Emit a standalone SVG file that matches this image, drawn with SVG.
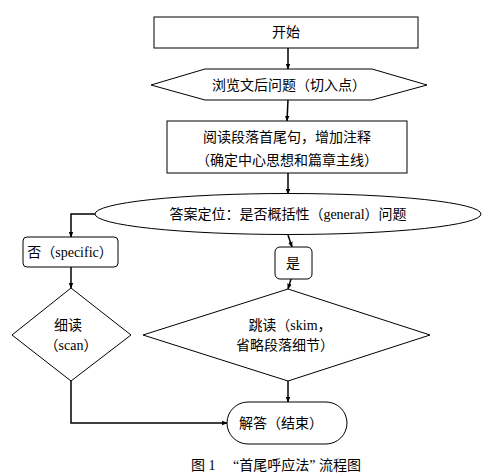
<svg xmlns="http://www.w3.org/2000/svg" width="493" height="476" viewBox="0 0 493 476">
<style>
.n{fill:#fff;stroke:#000;stroke-width:1}
.t{font-family:"Liberation Serif","Noto Sans CJK SC",serif;font-size:14px;fill:#000;text-anchor:middle}
.c{fill:none;stroke:#000;stroke-width:1.5}
</style>
<defs>
<marker id="a" viewBox="0 0 8 8" refX="7" refY="4" markerWidth="6" markerHeight="6" orient="auto" markerUnits="userSpaceOnUse">
<path d="M0,1 L8,4 L0,7 Z" fill="#000"/>
</marker>
</defs>
<rect width="493" height="476" fill="#fff"/>
<g id="connectors">
<path class="c" d="M288,48 L288,69" marker-end="url(#a)"/>
<path class="c" d="M288,100 L287,121" marker-end="url(#a)"/>
<path class="c" d="M288,173 L288,194" marker-end="url(#a)"/>
<path class="c" d="M95,214 L71,214 L71,237" marker-end="url(#a)"/>
<path class="c" d="M288,235 L292,247" marker-end="url(#a)"/>
<path class="c" d="M71,267 L71,288" marker-end="url(#a)"/>
<path class="c" d="M291,279 L288,289" marker-end="url(#a)"/>
<path class="c" d="M288,381 L288,402" marker-end="url(#a)"/>
<path class="c" d="M71,381 L71,423 L227,423" marker-end="url(#a)"/>
</g>
<g id="start">
<rect class="n" x="154" y="17" width="264" height="31"/>
<text class="t" x="286" y="37">开始</text>
</g>
<g id="browse">
<polygon class="n" points="151,85 205,69 372,69 427,85 372,100 205,100"/>
<text class="t" x="289" y="90">浏览文后问题（切入点）</text>
</g>
<g id="read">
<rect class="n" x="167" y="121" width="240" height="52"/>
<text class="t" x="287" y="142">阅读段落首尾句，增加注释</text>
<text class="t" x="287" y="165">（确定中心思想和篇章主线）</text>
</g>
<g id="decide">
<ellipse class="n" cx="288" cy="214" rx="193" ry="20.5"/>
<text class="t" x="288" y="219">答案定位：是否概括性（general）问题</text>
</g>
<g id="no">
<rect class="n" x="23" y="237" width="95" height="30" rx="4"/>
<text class="t" x="70" y="257">否（specific）</text>
</g>
<g id="yes">
<rect class="n" x="275" y="247" width="37" height="32" rx="5"/>
<text class="t" x="293" y="268">是</text>
</g>
<g id="scan">
<polygon class="n" points="71,288 131,335 71,381 12,335"/>
<text class="t" x="68" y="330">细读</text>
<text class="t" x="71" y="350">（scan）</text>
</g>
<g id="skim">
<polygon class="n" points="288,289 430,335 288,381 143,335"/>
<text class="t" x="290" y="330">跳读（skim，</text>
<text class="t" x="285" y="350">省略段落细节）</text>
</g>
<g id="end">
<rect class="n" x="227" y="402" width="120" height="42" rx="21"/>
<text class="t" x="281" y="428">解答（结束）</text>
</g>
<text class="t" x="276" y="470" xml:space="preserve">图 1　 “首尾呼应法” 流程图</text>
</svg>
